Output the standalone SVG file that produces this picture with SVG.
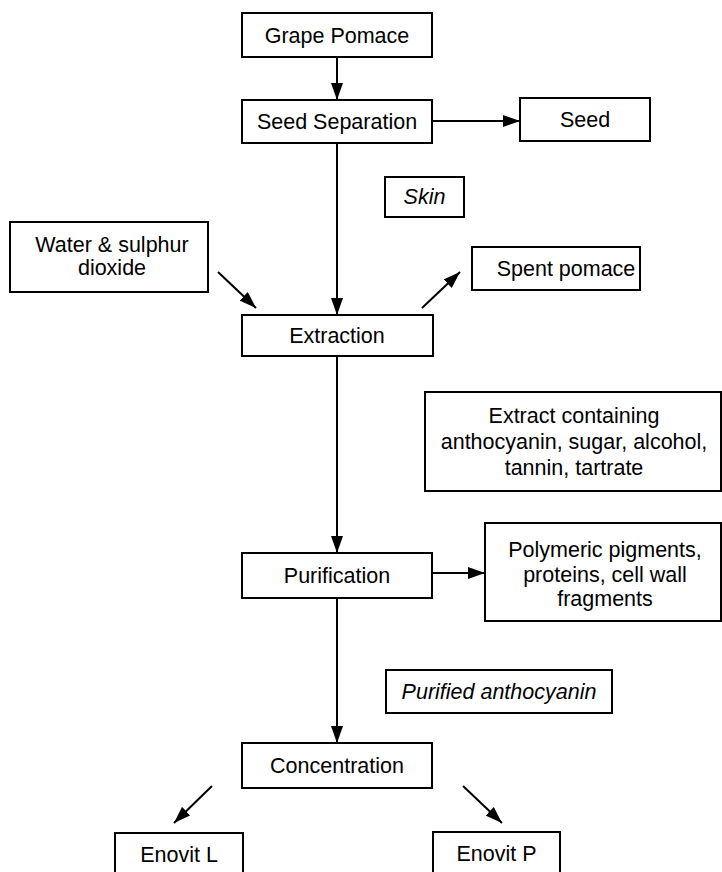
<svg xmlns="http://www.w3.org/2000/svg" width="722" height="872" viewBox="0 0 722 872">
  <style>
    .box { fill: #fff; stroke: #000; stroke-width: 2; }
    .lbl { font-family: "Liberation Sans", Arial, sans-serif; font-size: 21.5px; fill: #000; text-anchor: middle; }
    .it { font-style: italic; }
    .link { stroke: #000; stroke-width: 2; fill: none; }
  </style>
  <defs>
    <marker id="arrow" markerUnits="userSpaceOnUse" markerWidth="18" markerHeight="12" refX="17" refY="6" orient="auto">
      <path d="M0,0 L17,6 L0,12 z" fill="#000"/>
    </marker>
  </defs>
  <rect width="722" height="872" fill="#fff"/>

  <g id="connectors">
    <line class="link" x1="337" y1="57" x2="337" y2="100" marker-end="url(#arrow)"/>
    <line class="link" x1="432" y1="121" x2="520" y2="121" marker-end="url(#arrow)"/>
    <line class="link" x1="337" y1="143" x2="337" y2="315" marker-end="url(#arrow)"/>
    <line class="link" x1="218" y1="272" x2="256" y2="308" marker-end="url(#arrow)"/>
    <line class="link" x1="422" y1="308" x2="460" y2="272" marker-end="url(#arrow)"/>
    <line class="link" x1="337" y1="356" x2="337" y2="553" marker-end="url(#arrow)"/>
    <line class="link" x1="432" y1="573" x2="485" y2="573" marker-end="url(#arrow)"/>
    <line class="link" x1="337" y1="598" x2="337" y2="743" marker-end="url(#arrow)"/>
    <line class="link" x1="212" y1="786" x2="174" y2="823" marker-end="url(#arrow)"/>
    <line class="link" x1="463" y1="786" x2="502" y2="823" marker-end="url(#arrow)"/>
  </g>

  <g id="grape-pomace">
    <rect class="box" x="242" y="13" width="190" height="44"/>
    <text class="lbl" x="337" y="43">Grape Pomace</text>
  </g>
  <g id="seed-separation">
    <rect class="box" x="242" y="100" width="190" height="43"/>
    <text class="lbl" x="337" y="129">Seed Separation</text>
  </g>
  <g id="seed">
    <rect class="box" x="520" y="98" width="130" height="43"/>
    <text class="lbl" x="585" y="127">Seed</text>
  </g>
  <g id="skin">
    <rect class="box" x="385" y="177" width="79" height="40"/>
    <text class="lbl it" x="424.500" y="204">Skin</text>
  </g>
  <g id="water-sulphur">
    <rect class="box" x="10" y="222" width="198" height="70"/>
    <text class="lbl" x="112" y="252">Water &amp; sulphur</text>
    <text class="lbl" x="112" y="275">dioxide</text>
  </g>
  <g id="spent-pomace">
    <rect class="box" x="472" y="247" width="168" height="43"/>
    <text class="lbl" x="566" y="276">Spent pomace</text>
  </g>
  <g id="extraction">
    <rect class="box" x="242" y="315" width="191" height="41"/>
    <text class="lbl" x="337" y="343">Extraction</text>
  </g>
  <g id="extract">
    <rect class="box" x="425" y="392" width="296" height="99"/>
    <text class="lbl" x="574" y="423">Extract containing</text>
    <text class="lbl" x="574" y="449">anthocyanin, sugar, alcohol,</text>
    <text class="lbl" x="574" y="475">tannin, tartrate</text>
  </g>
  <g id="purification">
    <rect class="box" x="242" y="553" width="190" height="45"/>
    <text class="lbl" x="337" y="583">Purification</text>
  </g>
  <g id="polymeric">
    <rect class="box" x="485" y="523" width="236" height="98"/>
    <text class="lbl" x="605" y="557">Polymeric pigments,</text>
    <text class="lbl" x="605" y="582">proteins, cell wall</text>
    <text class="lbl" x="605" y="606">fragments</text>
  </g>
  <g id="purified-anthocyanin">
    <rect class="box" x="386" y="670" width="226" height="43"/>
    <text class="lbl it" x="499" y="699">Purified anthocyanin</text>
  </g>
  <g id="concentration">
    <rect class="box" x="242" y="743" width="190" height="45"/>
    <text class="lbl" x="337" y="773">Concentration</text>
  </g>
  <g id="enovit-l">
    <rect class="box" x="115" y="833" width="128" height="50"/>
    <text class="lbl" x="179" y="862">Enovit L</text>
  </g>
  <g id="enovit-p">
    <rect class="box" x="433" y="832" width="127" height="50"/>
    <text class="lbl" x="496.500" y="861">Enovit P</text>
  </g>
</svg>
